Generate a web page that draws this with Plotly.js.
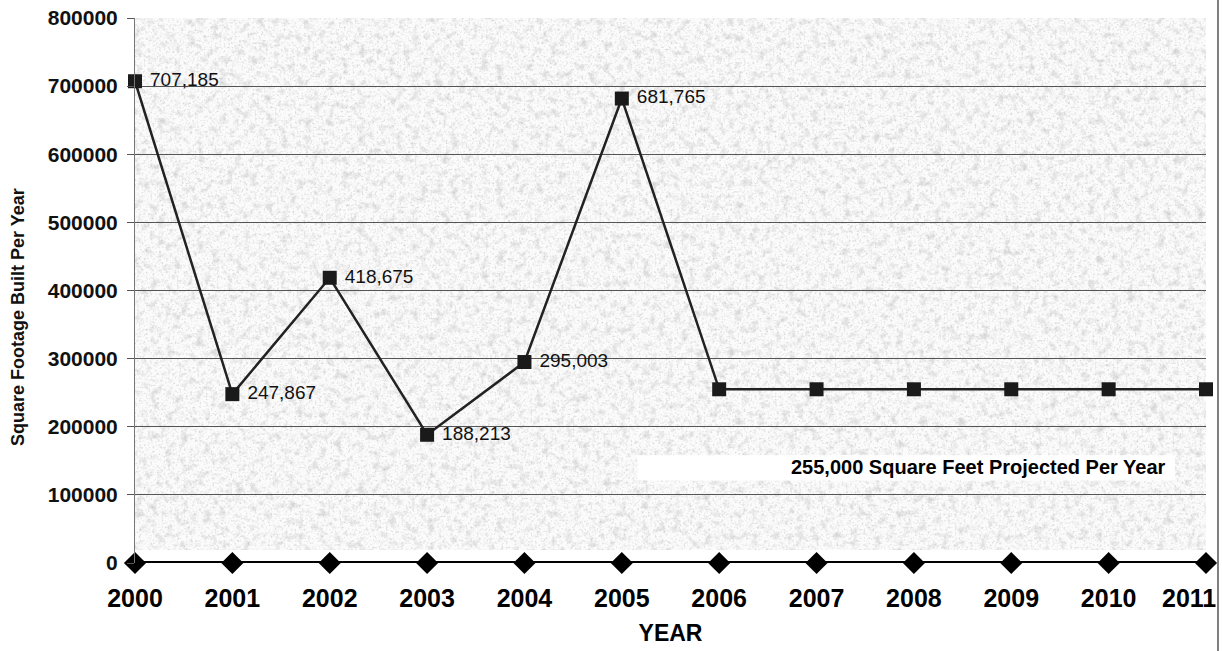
<!DOCTYPE html>
<html>
<head>
<meta charset="utf-8">
<script src="https://cdn.plot.ly/plotly-3.0.1.min.js"></script>
<style>html,body{margin:0;padding:0;background:#fff;}#chart{width:1222px;height:651px;}</style>
</head>
<body>
<div id="chart"></div>
<script>
const years = ['2000','2001','2002','2003','2004','2005','2006','2007','2008','2009','2010','2011'];
const footage = [707185, 247867, 418675, 188213, 295003, 681765, 255000, 255000, 255000, 255000, 255000, 255000];
const pointLabels = ['707,185','247,867','418,675','188,213','295,003','681,765','','','','','',''];
const baseline = [0,0,0,0,0,0,0,0,0,0,0,0];
const noteText = '255,000 Square Feet Projected Per Year';
const noteValue = 141000;
const xTitle = 'YEAR';
const yTitle = 'Square Footage Built Per Year';

const FONT = 'Liberation Sans, Arial, sans-serif';

const svg = "<svg xmlns='http://www.w3.org/2000/svg' width='1071' height='545' viewBox='0 0 1071 545'>" +
  "<filter id='n' x='0' y='0' width='100%' height='100%'>" +
  "<feTurbulence type='fractalNoise' baseFrequency='0.13' numOctaves='3' seed='7'/>" +
  "<feColorMatrix type='matrix' values='0 0 0 0 0.6  0 0 0 0 0.6  0 0 0 0 0.6  2.6 0 0 0 -1.3'/>" +
  "</filter>" +
  "<filter id='m' x='0' y='0' width='100%' height='100%'>" +
  "<feTurbulence type='fractalNoise' baseFrequency='0.45' numOctaves='2' seed='11'/>" +
  "<feColorMatrix type='matrix' values='0 0 0 0 0.55  0 0 0 0 0.55  0 0 0 0 0.55  0 3 0 0 -1.55'/>" +
  "</filter>" +
  "<rect width='1071' height='545' fill='#fbfbfb'/>" +
  "<rect width='1071' height='545' filter='url(#n)' opacity='0.75'/>" +
  "<rect width='1071' height='545' filter='url(#m)' opacity='0.6'/>" +
  "<rect x='0' y='532' width='1071' height='13' fill='#ffffff'/>" +
  "</svg>";
const bgSrc = 'data:image/svg+xml;charset=utf-8,' + encodeURIComponent(svg);

const traces = [
  {
    x: years, y: baseline, type: 'scatter', mode: 'lines+markers',
    line: {color: '#000', width: 4},
    marker: {symbol: 'diamond', size: 17, color: '#000'},
    cliponaxis: false, hoverinfo: 'skip', showlegend: false
  },
  {
    x: years, y: footage, type: 'scatter', mode: 'lines+markers+text',
    text: pointLabels, texttemplate: '\u00a0%{text}', textposition: 'middle right',
    textfont: {family: FONT, size: 19, color: '#111'},
    line: {color: '#222', width: 2.5},
    marker: {symbol: 'square', size: 14, color: '#1a1a1a'},
    cliponaxis: false, showlegend: false
  }
];

const layout = {
  width: 1222, height: 651,
  margin: {l: 135, r: 16, t: 18, b: 88},
  paper_bgcolor: '#ffffff',
  plot_bgcolor: '#f0f0f0',
  font: {family: FONT, color: '#000'},
  showlegend: false,
  xaxis: {
    type: 'category', range: [0, 11],
    tickmode: 'array', tickvals: years,
    ticktext: years.map((y, i) => i === years.length - 1 ? '' : y),
    ticks: '', showgrid: false, zeroline: false, showline: false,
    tickfont: {family: FONT, size: 25, weight: 'bold', color: '#000'},
    ticklabelstandoff: 18,
    title: {text: xTitle, font: {family: FONT, size: 23, weight: 'bold', color: '#000'}, standoff: 13},
    fixedrange: true
  },
  yaxis: {
    range: [0, 800000], dtick: 100000, tickformat: 'd',
    showgrid: true, gridcolor: '#555', gridwidth: 1,
    zeroline: false, showline: true, linecolor: '#777', linewidth: 1,
    ticks: 'outside', ticklen: 7, tickcolor: '#555',
    tickfont: {family: FONT, size: 21, weight: 'bold', color: '#111'},
    ticklabelstandoff: 5,
    fixedrange: true
  },
  images: [{
    source: bgSrc, xref: 'paper', yref: 'paper', x: 0, y: 1, sizex: 1, sizey: 1,
    sizing: 'stretch', xanchor: 'left', yanchor: 'top', layer: 'below'
  }],
  shapes: [
    {type: 'rect', xref: 'paper', yref: 'y', x0: 0.469, x1: 0.971, y0: 121000, y1: 158000,
     fillcolor: '#ffffff', line: {width: 0}, layer: 'above'},
    {type: 'line', xref: 'paper', yref: 'paper', x0: 1.0112, x1: 1.0112, y0: -0.1615, y1: 1.033,
     line: {color: '#555', width: 1.5}}
  ],
  annotations: [
    {xref: 'paper', yref: 'y', x: 0.9645, y: noteValue, xanchor: 'right', yanchor: 'middle',
     text: noteText, showarrow: false, font: {family: FONT, size: 20, weight: 'bold', color: '#000'}},
    {xref: 'paper', yref: 'paper', x: 1, y: 0, yshift: -35, xshift: -17,
     xanchor: 'center', yanchor: 'middle', text: years[years.length - 1], showarrow: false,
     font: {family: FONT, size: 25, weight: 'bold', color: '#000'}},
    {xref: 'paper', yref: 'paper', x: -0.1092, y: 0.4514, xanchor: 'center', yanchor: 'middle',
     textangle: -90, text: yTitle, showarrow: false,
     font: {family: FONT, size: 18, weight: 'bold', color: '#111'}}
  ]
};

Plotly.newPlot('chart', traces, layout, {displayModeBar: false, staticPlot: true});
</script>
</body>
</html>
